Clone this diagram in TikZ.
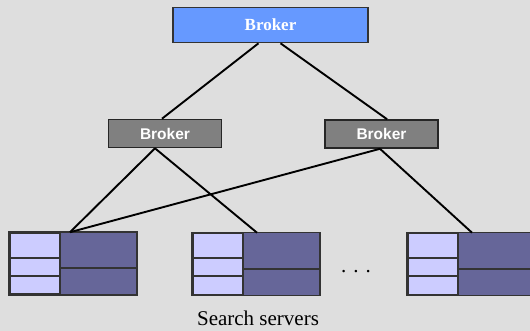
\documentclass[tikz,border=0pt]{standalone}
\usepackage{fontspec}
\setmainfont{Liberation Serif}
\newfontfamily\brokerfont{Liberation Sans}
\usetikzlibrary{calc}
\definecolor{bggray}{RGB}{222,222,222}
\definecolor{topblue}{RGB}{102,153,255}
\definecolor{midgray}{RGB}{128,128,128}
\definecolor{srvlight}{RGB}{204,204,255}
\definecolor{srvdark}{RGB}{102,102,153}
\definecolor{edgegray}{RGB}{51,51,51}

\begin{document}
\begin{tikzpicture}[x=1pt,y=-1pt,
    topbroker/.style={draw=edgegray,line width=1.6pt,fill=topblue,minimum width=195pt,minimum height=35pt,inner sep=0pt,text=white,font=\fontsize{17}{17}\selectfont\bfseries},
    midbroker/.style={draw=black!85,line width=1.6pt,fill=midgray,minimum width=113pt,minimum height=28pt,inner sep=0pt,text=white,font=\brokerfont\fontsize{15.5}{15.5}\selectfont\bfseries},
    server/.style={draw=edgegray,line width=1.6pt,fill=srvlight,minimum width=126pt,minimum height=61pt,inner sep=0pt},
    srvedge/.style={draw=edgegray,line width=1.6pt},
    link/.style={draw=black,line width=1.9pt},
    caption/.style={font=\fontsize{21}{21}\selectfont,inner sep=0pt}]
  \fill[bggray] (0,0) rectangle (530,331);
  \useasboundingbox (0,0) rectangle (530,331);
  % brokers
  \node[topbroker] (top) at (270.5,25) {Broker};
  \node[midbroker] (lb) at (165,133.5) {Broker};
  \node[midbroker] (rb) at (381.5,134) {Broker};
  % search servers
  \node[server] (s1) at (73,263.5) {};
  \node[server] (s2) at (256,264) {};
  \node[server] (s3) at (471,264) {};
  \foreach \s in {s1,s2,s3}{
    \fill[srvdark] ([xshift=51pt]\s.north west) rectangle (\s.south east);
    \draw[srvedge] ([xshift=51pt]\s.north west) -- ([xshift=51pt]\s.south west);
    \draw[srvedge] ([yshift=-36pt]\s.north west) ++(51,0) -- ([yshift=-36pt]\s.north east);
    \draw[srvedge] ([yshift=-25.5pt]\s.north west) -- ++(51,0);
    \draw[srvedge] ([yshift=-43.5pt]\s.north west) -- ++(51,0);
    \draw[srvedge] (\s.north west) rectangle (\s.south east);
  }
  \node[caption] (dots) at (356,272) {. . .};
  \node[caption] (cap) at (258,318) {Search servers};
  % connectors
  \draw[link] ([xshift=-12pt]top.south) -- ([xshift=-3pt]lb.north);
  \draw[link] ([xshift=10pt]top.south) -- ([xshift=5.5pt]rb.north);
  \draw[link] ([xshift=-10pt]lb.south) -- ([xshift=-3pt]s1.north);
  \draw[link] ([xshift=-10pt]lb.south) -- ([xshift=1pt]s2.north);
  \draw[link] ([xshift=-1.5pt]rb.south) -- ([xshift=-3pt]s1.north);
  \draw[link] ([xshift=-1.5pt]rb.south) -- ([xshift=1pt]s3.north);
\end{tikzpicture}
\end{document}
